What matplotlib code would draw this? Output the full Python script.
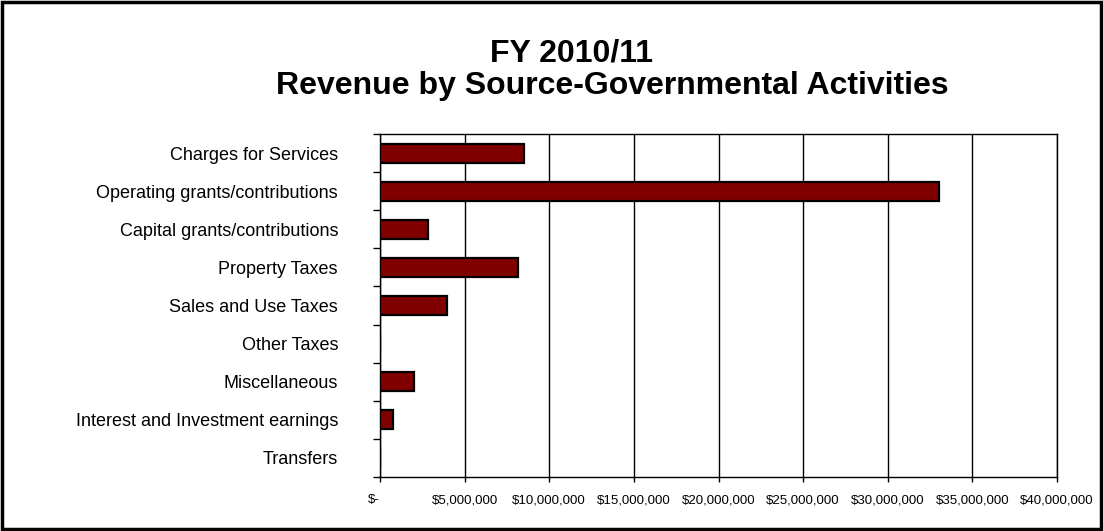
"""
FY 2010/11 revenue by source, horizontal bar chart
"""

import matplotlib
matplotlib.use("Agg")
import matplotlib.pyplot as plt
from matplotlib.patches import Rectangle
from matplotlib.ticker import FixedLocator


# ---------------------------------------------------------------------------
# Data
# ---------------------------------------------------------------------------

categories = [
    "Charges for Services",
    "Operating grants/contributions",
    "Capital grants/contributions",
    "Property Taxes",
    "Sales and Use Taxes",
    "Other Taxes",
    "Miscellaneous",
    "Interest and Investment earnings",
    "Transfers",
]
revenue = [8500000, 33000000, 2850000, 8150000, 3950000, 0, 2000000, 770000, 0]

x_ticks = [0, 5e6, 10e6, 15e6, 20e6, 25e6, 30e6, 35e6, 40e6]
x_tick_labels = ["$-", "$5,000,000", "$10,000,000", "$15,000,000", "$20,000,000",
                 "$25,000,000", "$30,000,000", "$35,000,000", "$40,000,000"]

title_line1 = "FY 2010/11"
title_line2 = "Revenue by Source-Governmental Activities"


# ---------------------------------------------------------------------------
# Plot
# ---------------------------------------------------------------------------

plt.rcParams["font.family"] = ["Liberation Sans", "DejaVu Sans"]

W, H = 1103, 531
fig = plt.figure(figsize=(W / 100, H / 100), dpi=100)
fig.patch.set_facecolor("white")

# plot area in pixel terms
left, right, top, bottom = 380, 1057, 134, 477
ax = fig.add_axes([left / W, (H - bottom) / H, (right - left) / W, (bottom - top) / H])

n = len(categories)
ypos = list(range(n))
ax.barh(ypos, revenue, height=0.5, color="#800000", edgecolor="black",
        linewidth=1.6, zorder=3)

ax.set_xlim(0, 40e6)
ax.set_ylim(n - 0.5, -0.5)

# vertical gridlines
ax.xaxis.set_major_locator(FixedLocator(x_ticks))
ax.set_xticklabels(x_tick_labels, fontsize=9.5)
ax.get_xticklabels()[0].set_horizontalalignment("right")
ax.grid(axis="x", color="black", linewidth=1.0, zorder=1)

# category labels sit between boundary ticks (Excel style)
ax.set_yticks(ypos)
ax.set_yticklabels(categories, fontsize=13)
ax.yaxis.set_minor_locator(FixedLocator([i - 0.5 for i in range(n + 1)]))
ax.tick_params(axis="y", which="major", length=0, pad=42 * 0.72)
ax.tick_params(axis="y", which="minor", length=5, width=1, direction="out",
               color="black")
ax.tick_params(axis="x", which="major", length=3.6, width=1, direction="out",
               pad=9, color="black")

for side in ["left", "bottom", "top", "right"]:
    ax.spines[side].set_color("black")
    ax.spines[side].set_linewidth(1.0)

# title, two centred lines
fig.text(571 / W, 1 - 61 / H, title_line1, ha="center", va="baseline",
         fontsize=23, fontweight="bold")
fig.text(612 / W, 1 - 94 / H, title_line2, ha="center", va="baseline",
         fontsize=23, fontweight="bold")

# outer chart border
fig.patches.append(Rectangle((0.0015, 0.003), 0.997, 0.994, transform=fig.transFigure,
                             fill=False, edgecolor="black", linewidth=2.5))

fig.savefig("out.png", dpi=100)
